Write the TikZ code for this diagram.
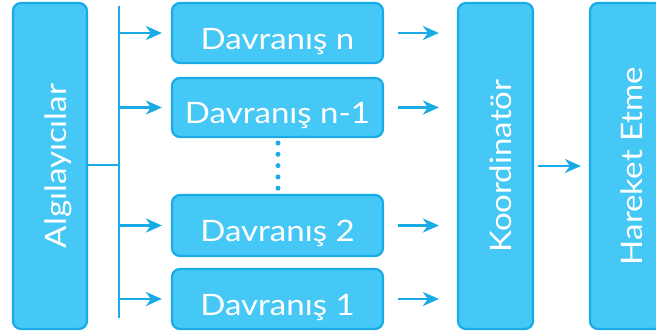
\documentclass[tikz,border=0pt]{standalone}
\usepackage{fontspec}
\setmainfont{Lato}[FakeStretch=1.12]
\usetikzlibrary{arrows.meta,calc}
\definecolor{boxfill}{HTML}{45C8F5}
\definecolor{boxline}{HTML}{1AAAE6}
\newcommand{\tx}[1]{\raisebox{-5.5pt}[21pt][0pt]{#1}}
\tikzset{
  box/.style={draw=boxline, fill=boxfill, line width=2.2pt, rounded corners=8pt, text=white, inner sep=0pt, font=\fontsize{29.5}{32}\selectfont},
  arr/.style={draw=boxline, line width=2.6pt, -{Stealth[length=16pt,width=14pt,inset=5pt]}},
  ln/.style={draw=boxline, line width=2.4pt},
  dotc/.style={circle, fill=boxline, inner sep=0pt, minimum size=5pt}
}
\begin{document}
\begin{tikzpicture}[x=1pt,y=-1pt]
\useasboundingbox (0,0) rectangle (656,333);
\clip (0,0) rectangle (656,333);
\node[box, minimum width=74pt, minimum height=326pt] (L) at (50,166) {\rotatebox{90}{\tx{Algılayıcılar}}};
\node[box, minimum width=211pt, minimum height=60pt] (Bn) at (277.5,33) {\tx{Davranış n}};
\node[box, minimum width=211pt, minimum height=59pt] (Bn1) at (277.5,107.5) {\tx{Davranış n-1}};
\node[box, minimum width=211pt, minimum height=61pt] (B2) at (277.5,225.5) {\tx{Davranış 2}};
\node[box, minimum width=211pt, minimum height=60pt] (B1) at (277.5,299) {\tx{Davranış 1}};
\node[box, minimum width=75pt, minimum height=326pt] (K) at (495.5,166) {\rotatebox{90}{\tx{Koordinatör}}};
\node[box, minimum width=72pt, minimum height=326pt] (H) at (626,166) {\rotatebox{90}{\tx{Hareket Etme}}};
\foreach \i/\yy in {1/143,2/154.3,3/165.6,4/176.9,5/188.2}
  \node[dotc] (d\i) at (278,\yy) {};
\coordinate (bt) at (119,6);
\coordinate (bb) at (119,318);
\coordinate (bj) at (119,165);
\draw[ln] (bt) -- (bb);
\draw[ln] (L.east |- bj) -- (bj);
\foreach \b in {Bn,Bn1,B2,B1}{
  \draw[arr] (bt |- \b.west) -- ($(\b.west)+(-9pt,0)$);
  \draw[arr] ($(\b.east)+(14pt,0)$) -- ($(\b.east -| K.west)+(-18pt,0)$);
}
\draw[arr] ($(K.east)+(4pt,0)$) -- ($(H.west)+(-8pt,0)$);
\end{tikzpicture}
\end{document}
